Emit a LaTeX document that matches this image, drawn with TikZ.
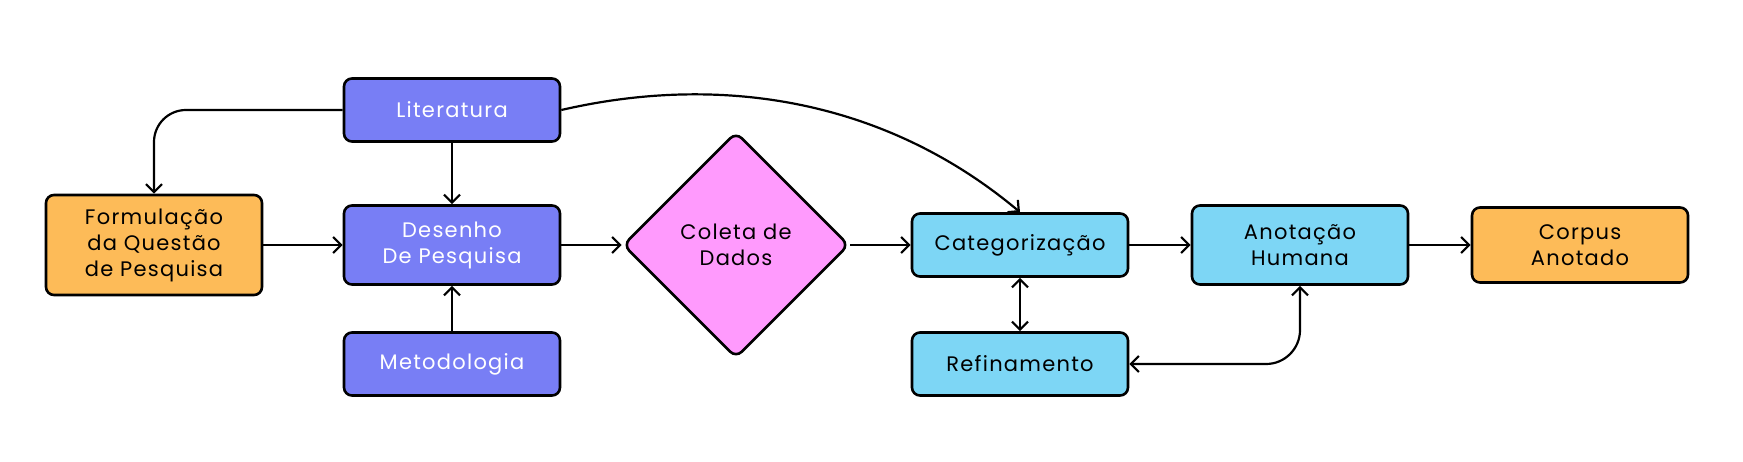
\documentclass[tikz,border=0pt]{standalone}
\usepackage{fontspec}
\setmainfont[LetterSpace=6]{Poppins}
\usepackage{tikz}
\usetikzlibrary{positioning,arrows.meta,shapes.geometric}

\definecolor{roxo}{HTML}{787EF5}
\definecolor{laranja}{HTML}{FDBB58}
\definecolor{rosa}{HTML}{FF9AFD}
\definecolor{ciano}{HTML}{7DD6F5}

\tikzset{
    caixa/.style={draw, line width=1.3pt, rounded corners=4pt, align=center,
        minimum width=108pt, minimum height=31.5pt, inner sep=2pt,
        font=\fontsize{10.5}{13}\selectfont},
    etapa/.style={caixa, fill=roxo, text=white},
    resultado/.style={caixa, fill=laranja},
    anotar/.style={caixa, fill=ciano},
    seta/.style={line width=1.1pt, -{Straight Barb[length=4pt,width=8pt]}},
}

\begin{document}
\begin{tikzpicture}[x=0.5pt,y=0.5pt,node distance=142pt,on grid,
        >={Straight Barb[length=4pt,width=8pt]}]
    \useasboundingbox (0,0) rectangle (1743,461);
    \node[resultado, minimum height=50pt] (formulacao) at (154,216) {Formulação\\da Questão\\de Pesquisa};
    \node[etapa, minimum height=39.5pt] (desenho) [right=149pt of formulacao] {Desenho\\De Pesquisa};
    \node[etapa] (literatura) [above=67.5pt of desenho] {Literatura};
    \node[etapa] (metodologia) [below=59.5pt of desenho] {Metodologia};
    \node[diamond, draw, line width=1.3pt, fill=rosa, rounded corners=4pt, align=center,
        minimum width=113pt, minimum height=113pt, inner sep=0pt,
        font=\fontsize{10.5}{13}\selectfont] (coleta) [right=of desenho] {Coleta de\\Dados};
    \node[anotar] (categorizacao) [right=of coleta] {Categorização};
    \node[anotar] (refinamento) [below=59.5pt of categorizacao] {Refinamento};
    \node[anotar, minimum height=39.5pt] (anotacao) [right=140pt of categorizacao] {Anotação\\Humana};
    \node[resultado, minimum height=37.5pt] (corpus) [right=140pt of anotacao] {Corpus\\Anotado};

    \draw[seta, rounded corners=16pt] (literatura.west) -| (formulacao.north);
    \draw[seta] (literatura) -- (desenho);
    \draw[seta] (formulacao) -- (desenho);
    \draw[seta] (metodologia) -- (desenho);
    \draw[seta] (desenho) -- (coleta);
    \draw[seta] (coleta) -- (categorizacao);
    \draw[seta] (literatura.east) .. controls +(13:170) and +(140:170) .. (categorizacao.north);
    \draw[seta, <->] (categorizacao) -- (refinamento);
    \draw[seta] (categorizacao) -- (anotacao);
    \draw[seta, <->, rounded corners=17pt] (anotacao.south) |- (refinamento.east);
    \draw[seta] (anotacao) -- (corpus);
\end{tikzpicture}
\end{document}
